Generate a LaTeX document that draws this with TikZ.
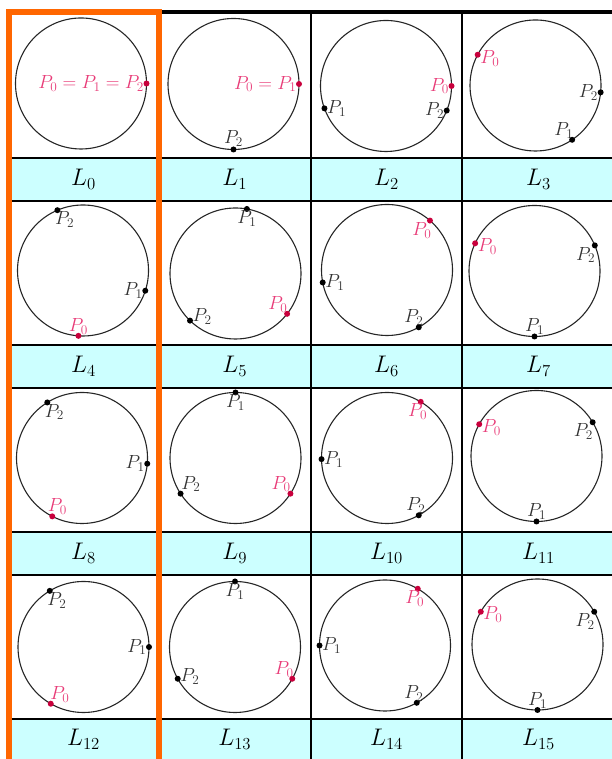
\documentclass[tikz,border=0pt]{standalone}
\usepackage{fix-cm}
\definecolor{orangeb}{RGB}{255,102,0}
\definecolor{cyanf}{RGB}{204,255,255}
\definecolor{dotred}{RGB}{200,0,60}
\definecolor{txtpink}{RGB}{232,60,120}
\newcommand\pdot[6]{%
  \node[#4] (#1) at (#2.#3) {};
  \node[#5] (#1t) at (#1) {#6};}
\begin{document}
\begin{tikzpicture}[x=1pt,y=1pt,
  circ/.style={circle, draw=black!85, line width=1.1pt, minimum size=131pt, inner sep=0pt, outer sep=0pt},
  bdot/.style={circle, fill=black, inner sep=0pt, minimum size=6pt},
  rdot/.style={circle, fill=dotred, inner sep=0pt, minimum size=6pt},
  bl/.style={inner sep=1.5pt, text=black!80, font=\fontsize{19}{19}\selectfont},
  rl/.style={bl, text=txtpink},
  lab/.style={font=\fontsize{24}{24}\selectfont, inner sep=0pt},
  grid/.style={line width=1.5pt, black}]
\useasboundingbox (0,0) rectangle (611,759);
% label cell backgrounds
\foreach \yt/\yb in {601/558, 414/371, 227/184, 40/-5}
  \fill[cyanf] (8.5,\yb) rectangle (615,\yt);
% grid lines
\foreach \y in {601,558,414,371,227,184,40}
  \draw[grid] (8.5,\y) -- (615,\y);
\foreach \x in {311,462}
  \draw[grid] (\x,747) -- (\x,-5);
\draw[line width=4pt, black] (138,747) -- (615,747);
% circles
\node[circ] (c0) at (81,675.5) {};
\node[circ] (c1) at (233.5,675) {};
\node[circ] (c2) at (386,673) {};
\node[circ] (c3) at (535.5,673.5) {};
\node[circ] (c4) at (83,488.5) {};
\node[circ] (c5) at (235.5,485.5) {};
\node[circ] (c6) at (387,489) {};
\node[circ] (c7) at (534.5,488) {};
\node[circ] (c8) at (82,301) {};
\node[circ] (c9) at (235.5,301) {};
\node[circ] (c10) at (387,301) {};
\node[circ] (c11) at (536.5,303) {};
\node[circ] (c12) at (83.5,112) {};
\node[circ] (c13) at (235,112) {};
\node[circ] (c14) at (385,113.5) {};
\node[circ] (c15) at (537.5,114.5) {};
% L0
\pdot{a0}{c0}{0}{rdot}{rl,anchor=east,xshift=-1pt}{$P_0=P_1=P_2$}
% L1
\pdot{b0}{c1}{0}{rdot}{rl,anchor=east,xshift=-1pt}{$P_0=P_1$}
\pdot{b2}{c1}{270}{bdot}{bl,anchor=south,yshift=1pt}{$P_2$}
% L2
\pdot{e0}{c2}{0}{rdot}{rl,anchor=east,xshift=-1pt}{$P_0$}
\pdot{e2}{c2}{-22}{bdot}{bl,anchor=east,xshift=-1pt}{$P_2$}
\pdot{e1}{c2}{200}{bdot}{bl,anchor=west,xshift=1pt}{$P_1$}
% L3
\pdot{f0}{c3}{152}{rdot}{rl,anchor=west,xshift=1pt,yshift=-4pt}{$P_0$}
\pdot{f2}{c3}{-6}{bdot}{bl,anchor=east,xshift=-1pt}{$P_2$}
\pdot{f1}{c3}{-56}{bdot}{bl,anchor=south east,xshift=3pt}{$P_1$}
% L4
\pdot{g2}{c4}{113}{bdot}{bl,anchor=north west,xshift=-4pt}{$P_2$}
\pdot{g1}{c4}{-18}{bdot}{bl,anchor=east,xshift=-1pt}{$P_1$}
\pdot{g0}{c4}{266}{rdot}{rl,anchor=south}{$P_0$}
% L5
\pdot{h1}{c5}{80}{bdot}{bl,anchor=north}{$P_1$}
\pdot{h2}{c5}{226}{bdot}{bl,anchor=west,xshift=1pt,yshift=4pt}{$P_2$}
\pdot{h0}{c5}{-38}{rdot}{rl,anchor=south east,xshift=2pt}{$P_0$}
% L6
\pdot{i0}{c6}{49}{rdot}{rl,anchor=north east,xshift=3pt}{$P_0$}
\pdot{i1}{c6}{191}{bdot}{bl,anchor=west,xshift=1pt}{$P_1$}
\pdot{i2}{c6}{-61}{bdot}{bl,anchor=south,xshift=-5pt}{$P_2$}
% L7
\pdot{j0}{c7}{155}{rdot}{rl,anchor=west,xshift=1pt,yshift=-3pt}{$P_0$}
\pdot{j2}{c7}{23}{bdot}{bl,anchor=north east,xshift=2pt}{$P_2$}
\pdot{j1}{c7}{270}{bdot}{bl,anchor=south}{$P_1$}
% L8
\pdot{k2}{c8}{122}{bdot}{bl,anchor=north west,xshift=-4pt}{$P_2$}
\pdot{k1}{c8}{-5}{bdot}{bl,anchor=east,xshift=-1pt}{$P_1$}
\pdot{k0}{c8}{243}{rdot}{rl,anchor=south,xshift=5pt}{$P_0$}
% L9
\pdot{m1}{c9}{90}{bdot}{bl,anchor=north}{$P_1$}
\pdot{m2}{c9}{213}{bdot}{bl,anchor=south west,xshift=-1pt}{$P_2$}
\pdot{m0}{c9}{-33}{rdot}{rl,anchor=south east,xshift=2pt}{$P_0$}
% L10
\pdot{n0}{c10}{59}{rdot}{rl,anchor=north,xshift=-3pt}{$P_0$}
\pdot{n1}{c10}{181}{bdot}{bl,anchor=west,xshift=1pt}{$P_1$}
\pdot{n2}{c10}{-61}{bdot}{bl,anchor=south,xshift=-3pt}{$P_2$}
% L11
\pdot{o0}{c11}{151}{rdot}{rl,anchor=west,xshift=1pt,yshift=-3pt}{$P_0$}
\pdot{o2}{c11}{31}{bdot}{bl,anchor=north east,xshift=2pt}{$P_2$}
\pdot{o1}{c11}{270}{bdot}{bl,anchor=south}{$P_1$}
% L12
\pdot{q2}{c12}{121}{bdot}{bl,anchor=north west,xshift=-4pt}{$P_2$}
\pdot{q1}{c12}{0}{bdot}{bl,anchor=east,xshift=-1pt}{$P_1$}
\pdot{q0}{c12}{240}{rdot}{rl,anchor=south west,xshift=-2pt}{$P_0$}
% L13
\pdot{r1}{c13}{90}{bdot}{bl,anchor=north}{$P_1$}
\pdot{r2}{c13}{209}{bdot}{bl,anchor=west,xshift=1pt,yshift=2pt}{$P_2$}
\pdot{r0}{c13}{-29}{rdot}{rl,anchor=south east,xshift=3pt}{$P_0$}
% L14
\pdot{s0}{c14}{60}{rdot}{rl,anchor=north,xshift=-3pt}{$P_0$}
\pdot{s1}{c14}{180}{bdot}{bl,anchor=west,xshift=1pt}{$P_1$}
\pdot{s2}{c14}{-61}{bdot}{bl,anchor=south,xshift=-3pt}{$P_2$}
% L15
\pdot{t0}{c15}{150}{rdot}{rl,anchor=west,xshift=1pt,yshift=-3pt}{$P_0$}
\pdot{t2}{c15}{30}{bdot}{bl,anchor=north east,xshift=2pt}{$P_2$}
\pdot{t1}{c15}{270}{bdot}{bl,anchor=south}{$P_1$}
% L labels
\node[lab] (L0) at (83.5,579.5) {$L_0$};
\node[lab] (L1) at (234.75,579.5) {$L_1$};
\node[lab] (L2) at (386.5,579.5) {$L_2$};
\node[lab] (L3) at (538.5,579.5) {$L_3$};
\node[lab] (L4) at (83.5,392.5) {$L_4$};
\node[lab] (L5) at (234.75,392.5) {$L_5$};
\node[lab] (L6) at (386.5,392.5) {$L_6$};
\node[lab] (L7) at (538.5,392.5) {$L_7$};
\node[lab] (L8) at (83.5,205.5) {$L_8$};
\node[lab] (L9) at (234.75,205.5) {$L_9$};
\node[lab] (L10) at (386.5,205.5) {$L_{10}$};
\node[lab] (L11) at (538.5,205.5) {$L_{11}$};
\node[lab] (L12) at (83.5,19.5) {$L_{12}$};
\node[lab] (L13) at (234.75,19.5) {$L_{13}$};
\node[lab] (L14) at (386.5,19.5) {$L_{14}$};
\node[lab] (L15) at (538.5,19.5) {$L_{15}$};
% orange frame
\draw[orangeb, line width=6pt, line join=miter] (8.5,-10) -- (8.5,747) -- (158.5,747) -- (158.5,-10);
\end{tikzpicture}
\end{document}
